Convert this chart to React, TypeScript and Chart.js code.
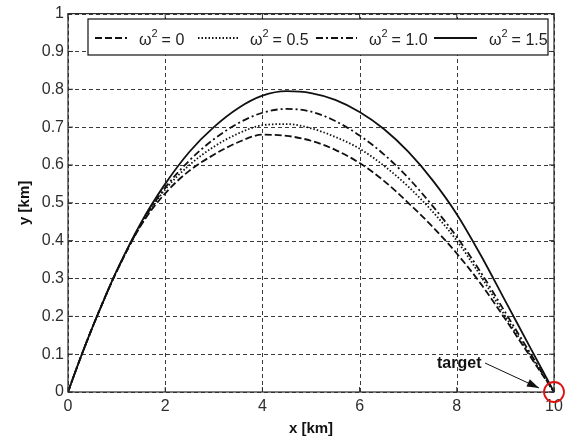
import React, { useEffect, useRef } from "react";
import { Chart, registerables } from "chart.js";

Chart.register(...registerables);

// x positions along the trajectory [km]
const xKm = [0, 0.25, 0.5, 0.75, 1, 1.5, 2, 2.5, 3, 3.5, 4, 4.5, 5, 5.5, 6, 6.5, 7, 7.5, 8, 8.5, 9, 9.5, 10];

// altitude [km] for each omega^2 value
const yOmega0 = [0, 0.088, 0.17, 0.247, 0.318, 0.44, 0.525, 0.585, 0.627, 0.66, 0.68, 0.677, 0.664, 0.64, 0.605, 0.558, 0.5, 0.437, 0.366, 0.285, 0.192, 0.096, 0];
const yOmega05 = [0, 0.088, 0.17, 0.247, 0.319, 0.442, 0.535, 0.6, 0.648, 0.683, 0.705, 0.708, 0.697, 0.674, 0.643, 0.598, 0.543, 0.477, 0.4, 0.305, 0.2, 0.1, 0];
const yOmega10 = [0, 0.088, 0.17, 0.247, 0.319, 0.443, 0.54, 0.612, 0.668, 0.71, 0.738, 0.748, 0.741, 0.716, 0.678, 0.628, 0.566, 0.492, 0.41, 0.315, 0.21, 0.105, 0];
const yOmega15 = [0, 0.088, 0.17, 0.247, 0.32, 0.447, 0.55, 0.635, 0.7, 0.75, 0.783, 0.795, 0.79, 0.772, 0.74, 0.695, 0.635, 0.56, 0.47, 0.36, 0.24, 0.12, 0];

const seriesLabels = ["0", "0.5", "1.0", "1.5"];
const seriesValues = [yOmega0, yOmega05, yOmega10, yOmega15];
const seriesDashes = [[7, 3], [1.5, 2], [7, 3, 2, 3], []];

const xTicks = [0, 2, 4, 6, 8, 10];
const yTicks = [0, 0.1, 0.2, 0.3, 0.4, 0.5, 0.6, 0.7, 0.8, 0.9, 1];
const yTickLabels = ["0", "0.1", "0.2", "0.3", "0.4", "0.5", "0.6", "0.7", "0.8", "0.9", "1"];
const xTickLabels = ["0", "2", "4", "6", "8", "10"];

const targetPoint = { x: 10, y: 0 };
const targetLabel = "target";

const FONT = "'Liberation Sans', Arial, sans-serif";

const gridPlugin = {
  id: "dashedGrid",
  beforeDatasetsDraw(chart: any) {
    const { ctx, chartArea } = chart;
    const { left, right, top, bottom } = chartArea;
    const xs = chart.scales.x;
    const ys = chart.scales.y;
    ctx.save();
    ctx.strokeStyle = "#3a3a3a";
    ctx.lineWidth = 1;
    ctx.setLineDash([4, 3]);
    xTicks.forEach((v) => {
      const px = Math.round(xs.getPixelForValue(v)) + 0.5;
      ctx.beginPath();
      ctx.moveTo(px, bottom);
      ctx.lineTo(px, top);
      ctx.stroke();
    });
    yTicks.forEach((v) => {
      const py = Math.round(ys.getPixelForValue(v)) + 0.5;
      ctx.beginPath();
      ctx.moveTo(left, py);
      ctx.lineTo(right, py);
      ctx.stroke();
    });
    ctx.restore();
  },
};

const framePlugin = {
  id: "frame",
  afterDatasetsDraw(chart: any) {
    const { ctx, chartArea } = chart;
    const { left, right, top, bottom } = chartArea;
    const xs = chart.scales.x;
    const ys = chart.scales.y;
    ctx.save();
    ctx.setLineDash([]);
    ctx.strokeStyle = "#2a2a2a";
    ctx.lineWidth = 1.2;
    ctx.strokeRect(left, top, right - left, bottom - top);
    // inward ticks
    const tl = 5;
    ctx.lineWidth = 1;
    xTicks.forEach((v) => {
      const px = xs.getPixelForValue(v);
      ctx.beginPath();
      ctx.moveTo(px, bottom);
      ctx.lineTo(px, bottom - tl);
      ctx.moveTo(px, top);
      ctx.lineTo(px, top + tl);
      ctx.stroke();
    });
    yTicks.forEach((v) => {
      const py = ys.getPixelForValue(v);
      ctx.beginPath();
      ctx.moveTo(left, py);
      ctx.lineTo(left + tl, py);
      ctx.moveTo(right, py);
      ctx.lineTo(right - tl, py);
      ctx.stroke();
    });

    // legend box
    const lx = 88, ly = 19, lw = 460, lh = 36;
    ctx.fillStyle = "#ffffff";
    ctx.fillRect(lx, ly, lw, lh);
    ctx.strokeStyle = "#111";
    ctx.lineWidth = 1.2;
    ctx.strokeRect(lx, ly, lw, lh);
    const cy = ly + lh / 2 + 1;
    const entryX = [95, 198, 316, 434];
    const sampleLen = [32, 40, 41, 43];
    chart.data.datasets.forEach((ds: any, i: number) => {
      const sx = entryX[i];
      ctx.save();
      ctx.strokeStyle = "#111";
      ctx.lineWidth = 1.8;
      ctx.setLineDash(ds.borderDash || []);
      ctx.beginPath();
      ctx.moveTo(sx, cy);
      ctx.lineTo(sx + sampleLen[i], cy);
      ctx.stroke();
      ctx.restore();
      // label: ω² = value
      let tx = sx + sampleLen[i] + 12;
      ctx.fillStyle = "#222";
      ctx.textBaseline = "alphabetic";
      ctx.textAlign = "left";
      ctx.font = `16px ${FONT}`;
      ctx.fillText("ω", tx, cy + 7);
      tx += ctx.measureText("ω").width;
      ctx.font = `11px ${FONT}`;
      ctx.fillText("2", tx, cy - 1);
      tx += ctx.measureText("2").width + 4;
      ctx.font = `16px ${FONT}`;
      ctx.fillText("= " + ds.omegaValue, tx, cy + 7);
    });

    // target annotation
    const txp = xs.getPixelForValue(targetPoint.x);
    const typ = ys.getPixelForValue(targetPoint.y);
    ctx.strokeStyle = "#e01010";
    ctx.lineWidth = 1.8;
    ctx.beginPath();
    ctx.arc(txp, typ, 10, 0, Math.PI * 2);
    ctx.stroke();

    ctx.fillStyle = "#111";
    ctx.font = `bold 16px ${FONT}`;
    ctx.textAlign = "left";
    ctx.textBaseline = "middle";
    ctx.fillText(targetLabel, txp - 117, typ - 28);
    // arrow
    const ax0 = txp - 69, ay0 = typ - 29;
    const ax1 = txp - 15, ay1 = typ - 4;
    ctx.strokeStyle = "#111";
    ctx.lineWidth = 1;
    ctx.beginPath();
    ctx.moveTo(ax0, ay0);
    ctx.lineTo(ax1, ay1);
    ctx.stroke();
    const ang = Math.atan2(ay1 - ay0, ax1 - ax0);
    const hl = 12, hw = 4;
    ctx.beginPath();
    ctx.moveTo(ax1, ay1);
    ctx.lineTo(ax1 - hl * Math.cos(ang) + hw * Math.sin(ang), ay1 - hl * Math.sin(ang) - hw * Math.cos(ang));
    ctx.lineTo(ax1 - hl * Math.cos(ang) - hw * Math.sin(ang), ay1 - hl * Math.sin(ang) + hw * Math.cos(ang));
    ctx.closePath();
    ctx.fill();
    ctx.restore();
  },
};

export default function App() {
  const canvasRef = useRef<HTMLCanvasElement | null>(null);

  useEffect(() => {
    document.body.style.margin = "0";
    const canvas = canvasRef.current;
    if (!canvas) return;
    const datasets = seriesValues.map((vals, i) => ({
      label: "ω² = " + seriesLabels[i],
      omegaValue: seriesLabels[i],
      data: xKm.map((x, j) => ({ x, y: vals[j] })),
      borderColor: "#111",
      borderWidth: 1.8,
      borderDash: seriesDashes[i],
      pointRadius: 0,
      fill: false,
      cubicInterpolationMode: "monotone" as const,
    }));
    const chart = new Chart(canvas, {
      type: "line",
      data: { datasets: datasets as any },
      options: {
        animation: false,
        responsive: false,
        maintainAspectRatio: false,
        layout: { padding: { top: 9, right: 20, left: 0, bottom: 0 } },
        plugins: {
          legend: { display: false },
          tooltip: { enabled: false },
        },
        scales: {
          x: {
            type: "linear",
            min: 0,
            max: 10,
            afterBuildTicks: (scale: any) => {
              scale.ticks = xTicks.map((v) => ({ value: v }));
            },
            afterFit: (scale: any) => {
              scale.height = 52;
            },
            ticks: {
              callback: (v: any) => xTickLabels[xTicks.indexOf(Number(v))] ?? "",
              font: { family: FONT, size: 16 },
              color: "#2e2e2e",
              padding: 5,
              maxRotation: 0,
            },
            grid: { display: false, drawTicks: false },
            border: { display: false },
            title: {
              display: true,
              text: "x [km]",
              font: { family: FONT, size: 15, weight: "bold" },
              color: "#111",
              padding: { top: 0, bottom: 6 },
            },
          },
          y: {
            type: "linear",
            min: 0,
            max: 1,
            afterBuildTicks: (scale: any) => {
              scale.ticks = yTicks.map((v) => ({ value: v }));
            },
            afterFit: (scale: any) => {
              scale.width = 68;
            },
            ticks: {
              callback: (v: any) => {
                const idx = yTicks.findIndex((t) => Math.abs(t - Number(v)) < 1e-6);
                return idx >= 0 ? yTickLabels[idx] : "";
              },
              font: { family: FONT, size: 16 },
              color: "#2e2e2e",
              padding: 4,
            },
            grid: { display: false, drawTicks: false },
            border: { display: false },
            title: {
              display: true,
              text: "y [km]",
              font: { family: FONT, size: 15, weight: "bold" },
              color: "#111",
              padding: { top: 16, bottom: 0 },
            },
          },
        },
      },
      plugins: [gridPlugin, framePlugin],
    });
    return () => chart.destroy();
  }, []);

  return (
    <div style={{ width: 574, height: 444, background: "#fff" }}>
      <canvas ref={canvasRef} width={574} height={444} style={{ display: "block" }} />
    </div>
  );
}
